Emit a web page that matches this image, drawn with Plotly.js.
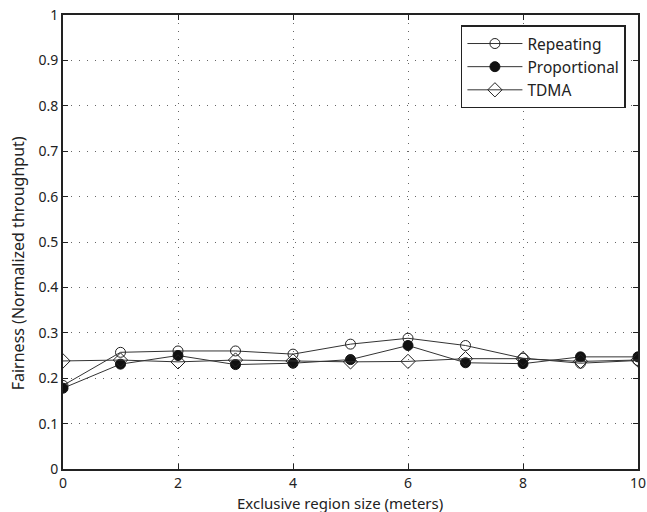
<!DOCTYPE html>
<html><head><meta charset="utf-8">
<script src="https://cdn.plot.ly/plotly-3.0.1.min.js"></script>
<style>body{margin:0;padding:0;background:#fff}#chart{width:647px;height:512px}</style>
</head><body><div id="chart"></div>
<script>
const xVals = [0,1,2,3,4,5,6,7,8,9,10];
const repeating = [0.184,0.257,0.260,0.260,0.253,0.275,0.288,0.272,0.244,0.233,0.239];
const proportional = [0.178,0.231,0.250,0.230,0.233,0.241,0.272,0.234,0.232,0.247,0.247];
const tdma = [0.238,0.240,0.236,0.240,0.238,0.236,0.237,0.243,0.243,0.237,0.240];
const xTicks = [0,2,4,6,8,10];
const yTicks = [0,0.1,0.2,0.3,0.4,0.5,0.6,0.7,0.8,0.9,1];
const yTickText = ['0','0.1','0.2','0.3','0.4','0.5','0.6','0.7','0.8','0.9','1'];
const xTitle = 'Exclusive region size (meters)';
const yTitle = 'Fairness (Normalized throughput)';

const fam = '"Noto Sans", "Open Sans", sans-serif';
const font = {family: fam, size: 14, color: '#222'};
const lineStyle = {color: '#333', width: 1};
const traces = [
  {x: xVals, y: repeating, name: 'Repeating', mode: 'lines+markers', line: lineStyle,
   marker: {symbol: 'circle-open', size: 10, color: '#222', line: {width: 1, color: '#222'}}},
  {x: xVals, y: proportional, name: 'Proportional', mode: 'lines+markers', line: lineStyle,
   marker: {symbol: 'circle', size: 10, color: '#111', line: {width: 1, color: '#111'}}},
  {x: xVals, y: tdma, name: 'TDMA', mode: 'lines+markers', line: lineStyle,
   marker: {symbol: 'diamond-open', size: 11, color: '#222', line: {width: 1, color: '#222'}}}
];
const axisCommon = {
  showline: true, linecolor: '#222', linewidth: 2, mirror: 'allticks',
  ticks: 'inside', ticklen: 5, tickcolor: '#222', tickwidth: 1,
  showgrid: true, gridcolor: '#666', gridwidth: 1, griddash: '1px,7px',
  zeroline: false, tickfont: font
};
const layout = {
  width: 647, height: 512,
  margin: {l: 63, r: 9, t: 15, b: 43},
  paper_bgcolor: '#fff', plot_bgcolor: '#fff',
  font: font,
  showlegend: true,
  legend: {x: 0.979, y: 0.977, xanchor: 'right', yanchor: 'top',
    bordercolor: '#222', borderwidth: 1.5, bgcolor: '#fff', itemwidth: 55,
    font: {family: fam, size: 15.5, color: '#222'}, tracegroupgap: 0},
  xaxis: Object.assign({}, axisCommon, {range: [0,10], tickvals: xTicks}),
  yaxis: Object.assign({}, axisCommon, {range: [0,1], tickvals: yTicks, ticktext: yTickText}),
  annotations: [
    {text: xTitle, xref: 'paper', yref: 'paper', x: (340-63)/575, y: -(503-468.7)/454,
     xanchor: 'center', yanchor: 'middle', showarrow: false, font: {family: fam, size: 15, color: '#222'}},
    {text: yTitle, xref: 'paper', yref: 'paper', x: -(63-18)/575, y: (468.7-263)/454,
     xanchor: 'center', yanchor: 'middle', textangle: -90, showarrow: false, font: {family: fam, size: 16, color: '#222'}}
  ]
};
Plotly.newPlot('chart', traces, layout, {displayModeBar: false, staticPlot: true});
</script></body></html>
